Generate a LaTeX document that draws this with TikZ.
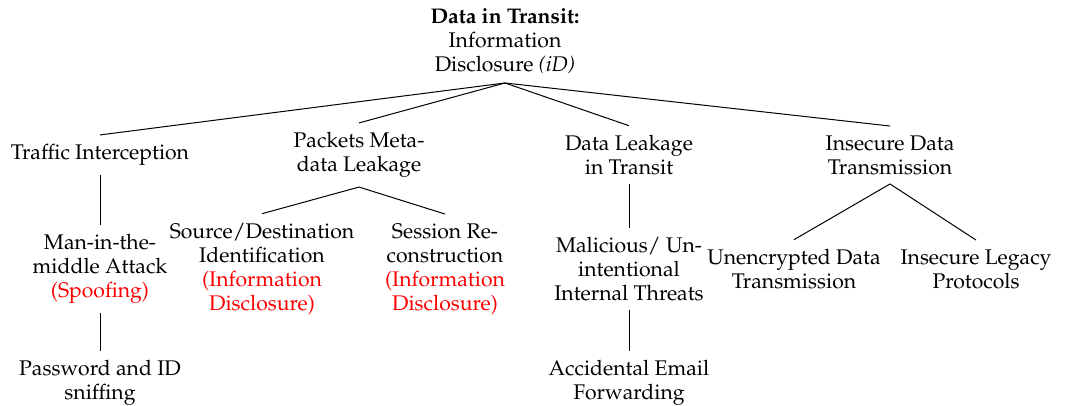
\documentclass[tikz,border=0pt]{standalone}
\usepackage[T1]{fontenc}
\usepackage{mathpazo}

\begin{document}
\begin{tikzpicture}[%%
  x=0.5pt,y=-0.5pt,%%
  lineStyle/.style={-,line width=0.5pt},%%
  nodeStyle/.style={inner xsep=2pt,inner ysep=4.5pt,align=center,%%
    font=\fontsize{10.6pt}{12pt}\selectfont}%%
]
\useasboundingbox (0,0) rectangle (1073,406);
%%
%%
\pgfmathsetmacro{\dy}{114}
\pgfmathsetmacro{\yroot}{41}
%%
\coordinate (RootPos) at (505,\yroot);
\coordinate (TrafficPos) at (100,\yroot+\dy);
\coordinate (PacketsPos) at (359,\yroot+\dy);
\coordinate (LeakPos) at (629,\yroot+\dy);
\coordinate (InsecurePos) at (890,\yroot+\dy);
\coordinate (MitmPos) at (100,\yroot+2*\dy);
\coordinate (SourcePos) at (262,\yroot+2*\dy);
\coordinate (SessionPos) at (445,\yroot+2*\dy);
\coordinate (MaliciousPos) at (629,\yroot+2*\dy);
\coordinate (UnencPos) at (794,\yroot+2*\dy);
\coordinate (LegacyPos) at (976,\yroot+2*\dy);
\coordinate (SniffPos) at (100,\yroot+3*\dy);
\coordinate (EmailPos) at (629,\yroot+3*\dy);
%%
%%
%% Draw the threat tree.
%% Nodes of the threat tree.
\node (Root) at (RootPos) [nodeStyle] {\textbf{Data in Transit:}\\ Information\\ Disclosure \textit{(iD)}};
\node (Traffic) at (TrafficPos) [nodeStyle] {Traffic Interception};
\node (Packets) at (PacketsPos) [nodeStyle] {Packets Meta-\\ data Leakage};
\node (Leak) at (LeakPos) [nodeStyle] {Data Leakage\\ in Transit};
\node (Insecure) at (InsecurePos) [nodeStyle] {Insecure Data\\ Transmission};
\node (Mitm) at (MitmPos) [nodeStyle] {Man-in-the-\\ middle Attack\\ \textcolor{red}{(Spoofing)}};
\node (Source) at (SourcePos) [nodeStyle] {Source/Destination\\ Identification\\ \textcolor{red}{(Information}\\ \textcolor{red}{Disclosure)}};
\node (Session) at (SessionPos) [nodeStyle] {Session Re-\\ construction\\ \textcolor{red}{(Information}\\ \textcolor{red}{Disclosure)}};
\node (Malicious) at (MaliciousPos) [nodeStyle] {Malicious/ Un-\\ intentional\\ Internal Threats};
\node (Unenc) at (UnencPos) [nodeStyle] {Unencrypted Data\\ Transmission};
\node (Legacy) at (LegacyPos) [nodeStyle] {Insecure Legacy\\ Protocols};
\node (Sniff) at (SniffPos) [nodeStyle] {Password and ID\\ sniffing};
\node (Email) at (EmailPos) [nodeStyle] {Accidental Email\\ Forwarding};
%% Lines between the nodes.
\draw[lineStyle] (Root.south) -- (Traffic.north);
\draw[lineStyle] (Root.south) -- (Packets.north);
\draw[lineStyle] (Root.south) -- (Leak.north);
\draw[lineStyle] (Root.south) -- (Insecure.north);
\draw[lineStyle] (Traffic.south) -- (Mitm.north);
\draw[lineStyle] (Mitm.south) -- (Sniff.north);
\draw[lineStyle] (Packets.south) -- (Source.north);
\draw[lineStyle] (Packets.south) -- (Session.north);
\draw[lineStyle] (Leak.south) -- (Malicious.north);
\draw[lineStyle] (Malicious.south) -- (Email.north);
\draw[lineStyle] (Insecure.south) -- (Unenc.north);
\draw[lineStyle] (Insecure.south) -- (Legacy.north);
\end{tikzpicture}
\end{document}
